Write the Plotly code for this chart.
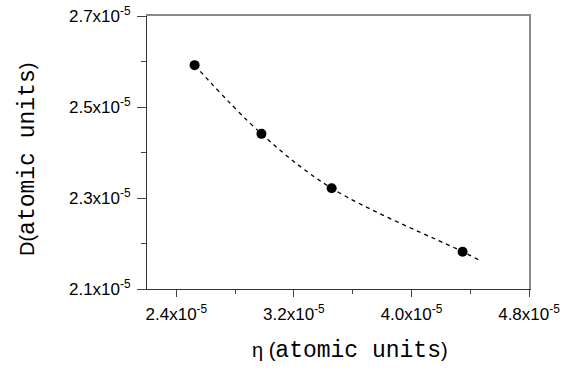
import plotly.graph_objects as go

# data
eta = [2.524e-5, 2.979e-5, 3.457e-5, 4.348e-5]
D = [2.592e-5, 2.441e-5, 2.3215e-5, 2.182e-5]

# dashed fitted curve
eta_fit = [2.524e-5, 2.979e-5, 3.457e-5, 4.348e-5, 4.47e-5]
D_fit = [2.592e-5, 2.441e-5, 2.3215e-5, 2.182e-5, 2.162e-5]

x_ticks = [2.4e-5, 3.2e-5, 4.0e-5, 4.8e-5]
x_ticktext = ["2.4x10<sup>-5</sup>", "3.2x10<sup>-5</sup>", "4.0x10<sup>-5</sup>", "4.8x10<sup>-5</sup>"]
x_minor = [2.8e-5, 3.6e-5, 4.4e-5]
y_ticks = [2.1e-5, 2.3e-5, 2.5e-5, 2.7e-5]
y_ticktext = ["2.1x10<sup>-5</sup>", "2.3x10<sup>-5</sup>", "2.5x10<sup>-5</sup>", "2.7x10<sup>-5</sup>"]
y_minor = [2.2e-5, 2.4e-5, 2.6e-5]

x_range = [2.2e-5, 4.8e-5]
y_range = [2.1e-5, 2.7e-5]

fig = go.Figure()
fig.add_trace(go.Scatter(x=eta_fit, y=D_fit, mode="lines",
                         line=dict(color="black", width=1.3, dash="4px,4px", shape="spline"),
                         showlegend=False, hoverinfo="skip"))
fig.add_trace(go.Scatter(x=eta, y=D, mode="markers",
                         marker=dict(color="black", size=10),
                         showlegend=False))
# invisible trace to carry the gray top/right frame axes
fig.add_trace(go.Scatter(x=[eta[0]], y=[D[0]], xaxis="x2", yaxis="y2", mode="markers",
                         marker=dict(opacity=0), showlegend=False, hoverinfo="skip"))

axis_common = dict(showgrid=False, zeroline=False, showline=True, linecolor="#333",
                   linewidth=1, ticks="outside", tickcolor="#444", tickwidth=1,
                   automargin=False, ticklabeloverflow="allow",
                   tickfont=dict(family="Liberation Sans, Arial, sans-serif", size=17, color="black"))

fig.update_layout(
    xaxis=dict(range=x_range, tickmode="array", tickvals=x_ticks, ticktext=x_ticktext,
               ticklen=7, ticklabelstandoff=3,
               minor=dict(tickmode="array", tickvals=x_minor, ticks="outside", ticklen=4,
                          tickcolor="#444", showgrid=False),
               **axis_common),
    yaxis=dict(range=y_range, tickmode="array", tickvals=y_ticks, ticktext=y_ticktext,
               ticklen=9, ticklabelstandoff=3,
               minor=dict(tickmode="array", tickvals=y_minor, ticks="outside", ticklen=5,
                          tickcolor="#444", showgrid=False),
               **axis_common),
    xaxis2=dict(range=x_range, overlaying="x", side="top", showline=True, linecolor="#8a8a8a",
                linewidth=1.5, showticklabels=False, ticks="", showgrid=False, zeroline=False,
                automargin=False),
    yaxis2=dict(range=y_range, overlaying="y", side="right", showline=True, linecolor="#8a8a8a",
                linewidth=1.5, showticklabels=False, ticks="", showgrid=False, zeroline=False,
                automargin=False),
)

sans = "font-family:'Liberation Sans';font-size:20px"
fig.add_annotation(xref="paper", yref="paper", x=0.532, y=-0.227, showarrow=False,
                   xanchor="center", yanchor="middle",
                   text=f"<span style=\"{sans}\">η (</span>atomic units<span style=\"{sans}\">)</span>",
                   font=dict(family="Liberation Mono, Courier New, monospace", size=23, color="black"))
fig.add_annotation(xref="paper", yref="paper", x=-0.313, y=0.474, showarrow=False,
                   xanchor="center", yanchor="middle", textangle=-90,
                   text=f"<span style=\"{sans}\">D(</span>atomic units<span style=\"{sans}\">)</span>",
                   font=dict(family="Liberation Mono, Courier New, monospace", size=23, color="black"))

fig.update_layout(width=574, height=370, plot_bgcolor="white", paper_bgcolor="white",
                  margin=dict(l=147, r=45, t=16, b=81, autoexpand=False), showlegend=False)

# remove the default page margin so the figure sits at the window's top-left corner
fig.write_html("out.html", config={"displayModeBar": False},
               post_script="document.body.style.margin='0';")
